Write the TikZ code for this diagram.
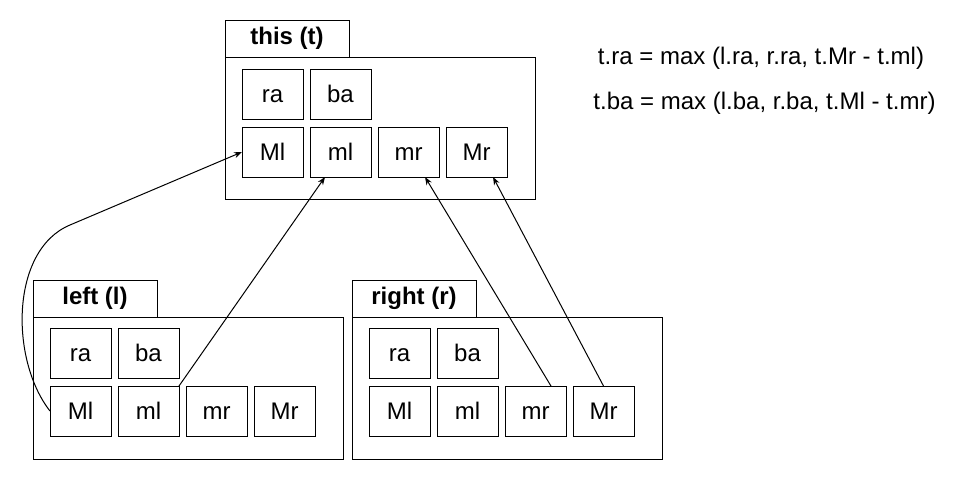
\documentclass[tikz,border=0pt]{standalone}
\usepackage{fontspec}
\setmainfont{Liberation Sans}
\usetikzlibrary{arrows.meta,positioning}
\begin{document}
\begin{tikzpicture}[x=0.75pt,y=-0.75pt,->,>={Stealth[length=6pt,width=4.5pt]},line width=0.75pt,
        every node/.style={font=\fontsize{18}{21}\selectfont},
        cell/.style={draw,rectangle,minimum width=45.75pt,minimum height=37.5pt,inner sep=0pt,outer sep=0pt,text height=12.9pt,text depth=0pt},
        frame/.style={draw,rectangle,anchor=north west,minimum width=232.5pt,minimum height=106.5pt,inner sep=0pt,outer sep=0pt},
        tab/.style={draw,rectangle,anchor=north west,minimum width=93pt,minimum height=27.75pt,inner sep=0pt,outer sep=0pt,font=\fontsize{18}{21}\selectfont\bfseries},
        formula/.style={inner sep=0pt}]
            \useasboundingbox (0,0) rectangle (968,479);

            % this (t)
            \node   [tab]       at (225,20)                 (ttab)   {this (t)};
            \node   [frame]     at (225,57)                 (tframe) {};
            \node   [cell]      at (272.5,94)               (tra)    {ra};
            \node   [cell]      [right=5.25pt of tra]       (tba)    {ba};
            \node   [cell]      [below=6pt of tra]          (tMl)    {Ml};
            \node   [cell]      [right=5.25pt of tMl]       (tml)    {ml};
            \node   [cell]      [right=5.25pt of tml]       (tmr)    {mr};
            \node   [cell]      [right=5.25pt of tmr]       (tMr)    {Mr};

            % left (l)
            \node   [tab]       at (33,280)                 (ltab)   {left (l)};
            \node   [frame]     at (33,317)                 (lframe) {};
            \node   [cell]      at (80.5,353)               (lra)    {ra};
            \node   [cell]      [right=5.25pt of lra]       (lba)    {ba};
            \node   [cell]      [below=6pt of lra]          (lMl)    {Ml};
            \node   [cell]      [right=5.25pt of lMl]       (lml)    {ml};
            \node   [cell]      [right=5.25pt of lml]       (lmr)    {mr};
            \node   [cell]      [right=5.25pt of lmr]       (lMr)    {Mr};

            % right (r)
            \node   [tab]       at (352,280)                (rtab)   {right (r)};
            \node   [frame]     at (352,317)                (rframe) {};
            \node   [cell]      at (399.5,353)              (rra)    {ra};
            \node   [cell]      [right=5.25pt of rra]       (rba)    {ba};
            \node   [cell]      [below=6pt of rra]          (rMl)    {Ml};
            \node   [cell]      [right=5.25pt of rMl]       (rml)    {ml};
            \node   [cell]      [right=5.25pt of rml]       (rmr)    {mr};
            \node   [cell]      [right=5.25pt of rmr]       (rMr)    {Mr};

            % formulas
            \node   [formula]   at (761,58)                 (fra)    {t.ra = max (l.ra, r.ra, t.Mr - t.ml)};
            \node   [formula]   at (764.5,103)              (fba)    {t.ba = max (l.ba, r.ba, t.Ml - t.mr)};

            \coordinate (bend) at (70,225);
            \draw   (lMl.west) .. controls (10,360) and (10,250) .. (bend) -- (tMl.west);

            \path   (lml.north east) edge ([xshift=-11.6pt]tml.south)
            ([xshift=11.6pt]rmr.north) edge ([xshift=12.4pt]tmr.south)
            (rMr.north) edge ([xshift=12.4pt]tMr.south);
        \end{tikzpicture}
\end{document}
